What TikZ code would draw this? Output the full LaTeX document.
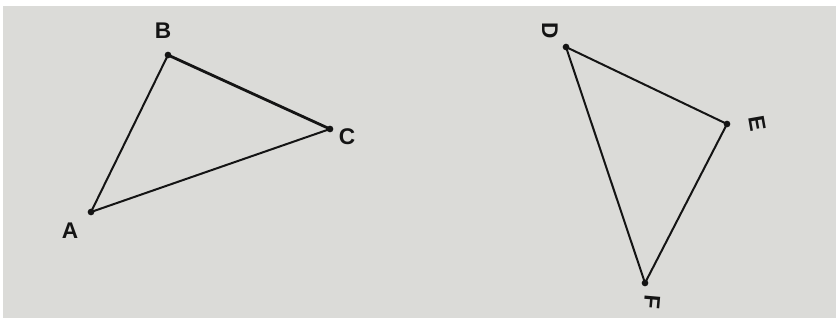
\documentclass[tikz,border=0pt]{standalone}
\usepackage{fontspec}
\setmainfont{Liberation Sans}
\definecolor{paper}{RGB}{219,219,216}
\definecolor{ink}{RGB}{20,20,20}
\tikzset{
  vdot/.style={circle,fill=ink,inner sep=0pt,minimum size=5pt},
  side/.style={draw=ink,line width=1.5pt,line cap=round},
  lbl/.style={text=ink,font=\fontsize{17}{17}\selectfont\bfseries,inner sep=0pt},
}
\begin{document}
\begin{tikzpicture}[x=0.75pt,y=-0.75pt]
\useasboundingbox (0,0) rectangle (839,322);
\fill[white] (0,0) rectangle (839,322);
\fill[paper] (3,6) rectangle (836,318);
% vertices
\node[vdot] (A) at (91,212) {};
\node[vdot] (B) at (168,55) {};
\node[vdot] (C) at (330,129) {};
\node[vdot] (D) at (566,47) {};
\node[vdot] (E) at (727,124) {};
\node[vdot] (F) at (645,283) {};
% sides
\draw[side] (A.center) -- (B.center);
\draw[side,line width=2.1pt] (B.center) -- (C.center);
\draw[side] (C.center) -- (A.center);
\draw[side] (D.center) -- (E.center);
\draw[side] (E.center) -- (F.center);
\draw[side] (F.center) -- (D.center);
% labels
\node[lbl] (lA) at (70,231) {A};
\node[lbl] (lB) at (163,31) {B};
\node[lbl] (lC) at (347,137) {C};
\node[lbl,rotate=-90] (lD) at (550,31) {D};
\node[lbl,rotate=-80] (lE) at (757,124) {E};
\node[lbl,rotate=-95] (lF) at (652,302) {F};
\end{tikzpicture}
\end{document}
